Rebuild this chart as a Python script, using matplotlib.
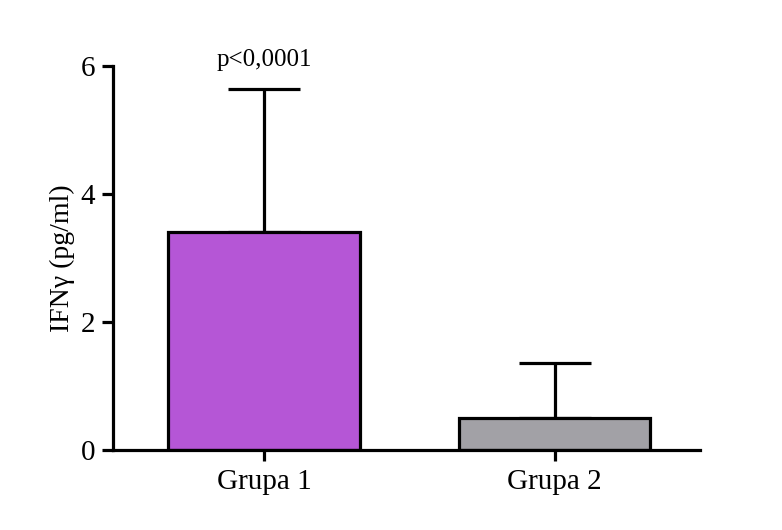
import numpy as np
import matplotlib
matplotlib.use('Agg')
import matplotlib.pyplot as plt

groups = ['Grupa 1', 'Grupa 2']
means = [3.41, 0.50]
sd_up = [2.23, 0.86]
colors = ['#B556D6', '#A2A1A6']
p_text = 'p<0,0001'

plt.rcParams['font.family'] = ['Liberation Serif', 'DejaVu Serif']

fig = plt.figure(figsize=(7.82, 5.30), dpi=100)
ax = fig.add_axes([0.1445, 0.151, 0.7505, 0.7245])

x = np.arange(len(groups))
lw = 2.3
ax.bar(x, means, width=0.66, color=colors, edgecolor='black', linewidth=lw, zorder=2)
ax.errorbar(x, means, yerr=[np.zeros(len(means)), sd_up], fmt='none',
            ecolor='black', elinewidth=lw, capsize=26, capthick=lw, zorder=1)

ax.text(x[0], means[0] + sd_up[0] + 0.28, p_text, ha='center', va='bottom', fontsize=18)

ax.set_xlim(-0.52, 1.50)
ax.set_ylim(0, 6)
ax.set_yticks([0, 2, 4, 6])
ax.set_xticks(x)
ax.set_xticklabels(groups)
ax.set_ylabel('IFNγ (pg/ml)', fontsize=20, labelpad=4)

for s in ['top', 'right']:
    ax.spines[s].set_visible(False)
for s in ['left', 'bottom']:
    ax.spines[s].set_linewidth(lw)
ax.tick_params(axis='both', width=lw, length=8, labelsize=21, pad=5)
ax.tick_params(axis='x', pad=6)

fig.savefig('out.png', dpi=100)
